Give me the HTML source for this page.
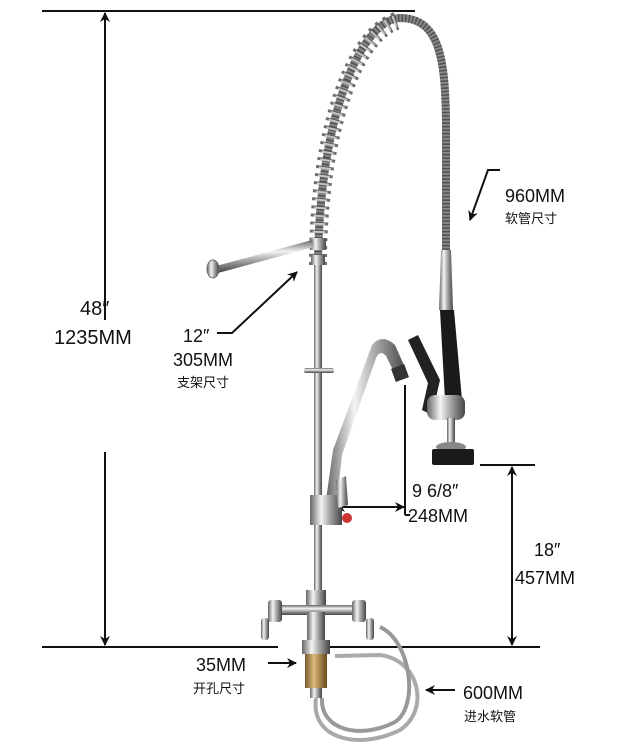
<!DOCTYPE html>
<html><head><meta charset="utf-8"><style>
html,body{margin:0;padding:0;background:#fff;}
svg{display:block}
text{font-family:"Liberation Sans","Noto Sans CJK SC",sans-serif;fill:#111;}
</style></head><body>
<svg width="628" height="750" viewBox="0 0 628 750" xmlns="http://www.w3.org/2000/svg">
<defs>
<linearGradient id="ch" x1="0" x2="1" y1="0" y2="0">
<stop offset="0" stop-color="#666"/><stop offset="0.35" stop-color="#f4f4f4"/><stop offset="0.6" stop-color="#aaa"/><stop offset="1" stop-color="#444"/></linearGradient>
<linearGradient id="chv" x1="0" x2="0" y1="0" y2="1">
<stop offset="0" stop-color="#666"/><stop offset="0.35" stop-color="#f4f4f4"/><stop offset="0.6" stop-color="#aaa"/><stop offset="1" stop-color="#444"/></linearGradient>
<linearGradient id="br" x1="0" x2="1"><stop offset="0" stop-color="#7a5a2a"/><stop offset="0.4" stop-color="#d9b878"/><stop offset="1" stop-color="#6a4a1a"/></linearGradient>
<marker id="ah" markerWidth="10" markerHeight="10" refX="9" refY="5" orient="auto" markerUnits="userSpaceOnUse"><path d="M0,0 L10,5 L0,10 L3,5 Z" fill="#111"/></marker>
</defs>

<line x1="42" y1="11" x2="415" y2="11" stroke="#111" stroke-width="2"/>
<line x1="105" y1="320" x2="105" y2="13" stroke="#111" stroke-width="2" marker-end="url(#ah)"/>
<line x1="105" y1="452" x2="105" y2="645" stroke="#111" stroke-width="2" marker-end="url(#ah)"/>
<line x1="42" y1="647" x2="278" y2="647" stroke="#111" stroke-width="2"/>
<line x1="330" y1="647" x2="540" y2="647" stroke="#111" stroke-width="2"/>
<line x1="480" y1="465" x2="535" y2="465" stroke="#111" stroke-width="2"/>
<line x1="512" y1="560" x2="512" y2="467" stroke="#111" stroke-width="2" marker-end="url(#ah)"/>
<line x1="512" y1="560" x2="512" y2="645" stroke="#111" stroke-width="2" marker-end="url(#ah)"/>
<line x1="405" y1="385" x2="405" y2="515" stroke="#111" stroke-width="2"/>
<line x1="405" y1="515" x2="410" y2="515" stroke="#111" stroke-width="2"/>
<line x1="370" y1="507" x2="404" y2="507" stroke="#111" stroke-width="2" marker-end="url(#ah)"/>
<line x1="370" y1="507" x2="336" y2="507" stroke="#111" stroke-width="2" marker-end="url(#ah)"/>
<line x1="333" y1="485" x2="333" y2="520" stroke="#111" stroke-width="2.5"/>
<polyline points="217,333 232,333 297,272" fill="none" stroke="#111" stroke-width="2" marker-end="url(#ah)"/>
<polyline points="500,170 488,170 470,220" fill="none" stroke="#111" stroke-width="2" marker-end="url(#ah)"/>
<line x1="268" y1="663" x2="296" y2="663" stroke="#111" stroke-width="2" marker-end="url(#ah)"/>
<line x1="455" y1="690" x2="426" y2="690" stroke="#111" stroke-width="2" marker-end="url(#ah)"/>

<!-- hose -->
<path d="M318,270 C318,120 360,20 400,18 C440,18 445,60 446,120 L446,310" fill="none" stroke="#888" stroke-width="8"/>
<path d="M318,270 C318,120 360,20 400,18 C440,18 445,60 446,120 L446,310" fill="none" stroke="#444" stroke-width="8" stroke-dasharray="1.5 2" opacity="0.8"/>
<path d="M318,265 C318,130 355,30 400,20" fill="none" stroke="#555" stroke-width="18" stroke-dasharray="3 5" opacity="0.85"/>
<path d="M318,265 C318,130 355,30 400,20" fill="none" stroke="#ddd" stroke-width="12" stroke-dasharray="2 6" opacity="0.8"/>
<path d="M441,250 L451,250 L453,310 L439,310 Z" fill="url(#ch)"/>
<path d="M440,310 L454,310 L462,400 L445,400 Z" fill="#1a1a1a"/>
<path d="M408,340 L418,335 L440,380 L432,415 L422,410 L428,383 Z" fill="#222"/>
<rect x="427" y="395" width="38" height="25" rx="8" fill="url(#ch)"/>
<rect x="447" y="418" width="8" height="28" fill="url(#ch)"/>
<ellipse cx="451" cy="447" rx="15" ry="5" fill="#888"/>
<rect x="432" y="449" width="42" height="16" rx="2" fill="#1a1a1a"/>
<!-- column -->
<rect x="314" y="255" width="8" height="360" fill="url(#ch)"/>
<rect x="311" y="255" width="14" height="10" fill="url(#ch)"/>
<rect x="310" y="238" width="16" height="12" fill="url(#ch)"/>
<path d="M216,266 L312,240 L314,247 L218,273 Z" fill="url(#chv)"/>
<ellipse cx="213" cy="269" rx="6" ry="9" fill="url(#ch)" stroke="#666"/>
<rect x="304" y="368" width="30" height="5" rx="2" fill="url(#chv)"/>
<!-- spout -->
<path d="M326,500 L333,450 L372,345 Q382,333 395,345 L407,372 L397,378 L386,356 Q380,349 376,358 L342,455 L337,500 Z" fill="url(#ch)"/>
<rect x="393" y="366" width="14" height="14" transform="rotate(-20 400 373)" fill="#333"/>
<rect x="310" y="495" width="32" height="30" fill="url(#ch)"/>
<path d="M336,480 L346,476 L348,505 L338,508 Z" fill="url(#ch)"/>
<circle cx="347" cy="518" r="5" fill="#c33"/>
<!-- base -->
<rect x="306" y="590" width="20" height="20" fill="url(#ch)"/>
<path d="M278,605 L355,605 L360,615 L274,615 Z" fill="url(#chv)"/>
<rect x="268" y="600" width="14" height="22" rx="3" fill="url(#ch)"/>
<rect x="352" y="600" width="14" height="22" rx="3" fill="url(#ch)"/>
<rect x="261" y="618" width="8" height="22" rx="3" fill="url(#ch)"/>
<rect x="366" y="618" width="8" height="22" rx="3" fill="url(#ch)"/>
<rect x="307" y="612" width="18" height="30" fill="url(#ch)"/>
<rect x="302" y="640" width="28" height="14" fill="url(#ch)"/>
<rect x="305" y="654" width="22" height="34" fill="url(#br)"/>
<rect x="310" y="688" width="12" height="10" fill="url(#ch)"/>
<path d="M316,698 C310,740 360,750 400,730 C430,710 420,660 380,655 L335,656" fill="none" stroke="#aaa" stroke-width="4"/>
<path d="M322,698 C320,730 360,740 395,722 C420,705 410,640 380,627" fill="none" stroke="#999" stroke-width="4"/>

<text x="80" y="315" font-size="20">48″</text>
<text x="54" y="344" font-size="20">1235MM</text>
<text x="183" y="342" font-size="18">12″</text>
<text x="173" y="366" font-size="18">305MM</text>
<text x="177" y="387" font-size="13">支架尺寸</text>
<text x="505" y="202" font-size="18">960MM</text>
<text x="505" y="223" font-size="13">软管尺寸</text>
<text x="412" y="497" font-size="18">9  6/8″</text>
<text x="408" y="522" font-size="18">248MM</text>
<text x="534" y="556" font-size="18">18″</text>
<text x="515" y="584" font-size="18">457MM</text>
<text x="196" y="671" font-size="18">35MM</text>
<text x="193" y="693" font-size="13">开孔尺寸</text>
<text x="463" y="699" font-size="18">600MM</text>
<text x="464" y="721" font-size="13">进水软管</text>
</svg>
</body></html>
